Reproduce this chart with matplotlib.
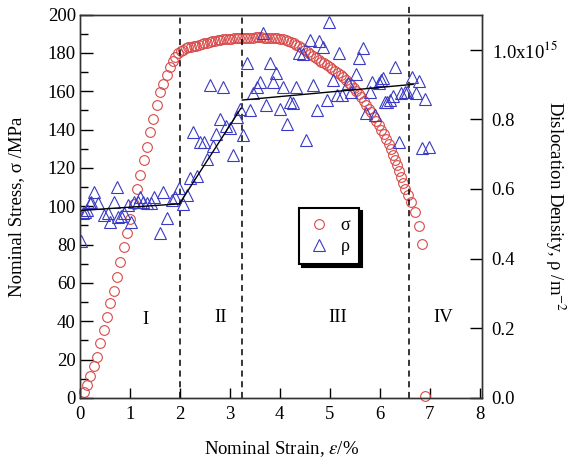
import numpy as np
import matplotlib
matplotlib.use("Agg")
import matplotlib.pyplot as plt

plt.rcParams['font.family'] = ['Liberation Serif', 'DejaVu Serif']
plt.rcParams['mathtext.fontset'] = 'stix'
plt.rcParams['font.size'] = 13.5

# stress-strain points (strain %, stress MPa)
strain_s = [0.08, 0.15, 0.21, 0.28, 0.35, 0.41, 0.48, 0.55, 0.61, 0.68,
            0.74, 0.81, 0.88, 0.94, 1.01, 1.08, 1.14, 1.21, 1.28, 1.34,
            1.41, 1.47, 1.54, 1.61, 1.67, 1.74, 1.80, 1.86, 1.91, 1.97,
            2.02, 2.07, 2.12, 2.17, 2.22, 2.28, 2.33, 2.38, 2.44, 2.49,
            2.55, 2.60, 2.65, 2.71, 2.76, 2.81, 2.87, 2.92, 2.98, 3.03,
            3.08, 3.14, 3.19, 3.25, 3.30, 3.35, 3.41, 3.46, 3.52, 3.57,
            3.63, 3.68, 3.73, 3.79, 3.84, 3.90, 3.95, 4.01, 4.06, 4.12,
            4.17, 4.22, 4.28, 4.33, 4.39, 4.44, 4.50, 4.56, 4.61, 4.67,
            4.72, 4.78, 4.83, 4.89, 4.94, 5.00, 5.05, 5.11, 5.16, 5.22,
            5.27, 5.33, 5.38, 5.43, 5.48, 5.53, 5.58, 5.63, 5.68, 5.73,
            5.78, 5.83, 5.88, 5.93, 5.98, 6.03, 6.08, 6.13, 6.18, 6.23,
            6.27, 6.31, 6.35, 6.39, 6.43, 6.47, 6.51, 6.56, 6.63, 6.71,
            6.78, 6.85, 6.91]
stress = [3.0, 6.6, 11.3, 16.7, 21.6, 28.9, 35.3, 42.1, 49.4, 55.9,
          63.2, 70.8, 78.9, 86.3, 93.3, 101.0, 109.0, 116.3, 124.3, 131.0,
          138.9, 145.7, 152.8, 159.4, 163.8, 168.7, 172.8, 175.6, 177.7, 179.8,
          181.0, 181.8, 182.4, 182.9, 183.2, 183.5, 183.9, 184.3, 184.7, 185.0,
          185.3, 185.7, 186.0, 186.3, 186.6, 186.9, 187.1, 187.3, 187.4, 187.5,
          187.6, 187.7, 187.8, 187.8, 187.9, 188.0, 188.0, 188.0, 188.1, 188.1,
          188.1, 188.0, 188.0, 187.9, 187.9, 187.8, 187.6, 187.4, 187.2, 186.8,
          186.3, 185.7, 185.0, 184.2, 183.4, 182.6, 181.6, 180.6, 179.6, 178.4,
          177.4, 176.3, 175.4, 174.6, 173.6, 172.7, 171.8, 170.6, 169.5, 168.3,
          167.3, 166.0, 164.6, 163.3, 161.8, 160.2, 158.5, 156.8, 155.0, 153.0,
          150.9, 149.0, 146.8, 144.6, 142.3, 140.0, 137.5, 135.0, 132.4, 129.8,
          127.0, 124.2, 121.3, 118.3, 115.2, 112.2, 109.0, 105.8, 102.4, 96.8,
          89.8, 80.4, 1.0]

# dislocation density points (strain %, rho in 1e15 m^-2)
strain_r = [0.01, 0.06, 0.10, 0.15, 0.20, 0.23, 0.28, 0.37, 0.48, 0.56,
            0.60, 0.68, 0.74, 0.77, 0.82, 0.89, 0.96, 1.02, 1.08, 1.16,
            1.21, 1.27, 1.34, 1.43, 1.48, 1.61, 1.67, 1.74, 1.84, 1.91,
            1.98, 2.06, 2.14, 2.21, 2.26, 2.35, 2.41, 2.48, 2.55, 2.60,
            2.67, 2.73, 2.80, 2.87, 2.93, 3.00, 3.07, 3.15, 3.20, 3.27,
            3.34, 3.40, 3.47, 3.54, 3.60, 3.67, 3.73, 3.80, 3.87, 3.93,
            4.00, 4.07, 4.14, 4.21, 4.27, 4.33, 4.39, 4.46, 4.53, 4.60,
            4.67, 4.74, 4.79, 4.86, 4.94, 4.99, 5.06, 5.14, 5.19, 5.25,
            5.36, 5.43, 5.53, 5.59, 5.66, 5.73, 5.80, 5.85, 5.91, 5.98,
            6.02, 6.06, 6.11, 6.14, 6.20, 6.27, 6.31, 6.38, 6.43, 6.50,
            6.55, 6.65, 6.72, 6.79, 6.85, 6.91, 6.99]
rho = [0.451, 0.532, 0.535, 0.540, 0.559, 0.563, 0.590, 0.559, 0.525, 0.530,
       0.506, 0.563, 0.606, 0.519, 0.522, 0.532, 0.554, 0.506, 0.563, 0.563,
       0.578, 0.563, 0.559, 0.559, 0.578, 0.473, 0.592, 0.516, 0.568, 0.578,
       0.602, 0.557, 0.583, 0.631, 0.764, 0.637, 0.736, 0.736, 0.685, 0.898,
       0.723, 0.758, 0.800, 0.892, 0.781, 0.774, 0.697, 0.807, 0.829, 0.755,
       0.962, 0.827, 0.874, 0.893, 0.908, 1.047, 0.841, 0.961, 0.908, 0.932,
       0.829, 0.893, 0.785, 0.848, 0.846, 0.891, 0.989, 0.986, 0.740, 1.027,
       0.898, 0.825, 1.023, 1.008, 0.855, 1.078, 0.913, 0.870, 0.989, 0.870,
       0.903, 0.879, 0.929, 0.975, 1.004, 0.817, 0.877, 0.908, 0.812, 0.903,
       0.913, 0.918, 0.850, 0.849, 0.855, 0.867, 0.951, 0.735, 0.874, 0.877,
       0.879, 0.922, 0.874, 0.910, 0.717, 0.858, 0.721]

# linear fits of rho in each stage
fit_x = [[0.0, 1.99], [1.99, 3.22], [3.25, 6.67]]
fit_y = [[0.538, 0.557], [0.557, 0.831], [0.855, 0.900]]

stage_bounds = [2.0, 3.25, 6.58]
stage_names = ['I', 'II', 'III', 'IV']
stage_x = [1.31, 2.81, 5.17, 7.28]
stage_y = [41, 42, 42, 42]

red = '#d84a4a'
blue = '#3a3ac4'

fig = plt.figure(figsize=(5.69, 4.61), dpi=100)
ax = fig.add_axes([0.1406, 0.1367, 0.7065, 0.8315])
ax2 = ax.twinx()

ax.plot(strain_s, stress, 'o', ms=7, mfc='none', mec=red, mew=0.8,
        clip_on=False, label='σ')
ax2.plot(strain_r, rho, '^', ms=8.5, mfc='none', mec=blue, mew=0.8,
         label='ρ')
for fx, fy in zip(fit_x, fit_y):
    ax2.plot(fx, fy, '-', color='black', lw=1.0)

for i, b in enumerate(stage_bounds):
    top = 1.022 if i == 2 else 1.0
    ax.axvline(b, ymin=0, ymax=top, color='black', ls=(0, (4, 3)),
               lw=1.1, clip_on=False)
for nm, sx, sy in zip(stage_names, stage_x, stage_y):
    ax.text(sx, sy, nm, ha='center', va='center', fontsize=13.5)

ax.set_xlim(0, 8.05)
ax.set_ylim(0, 200)
ax2.set_ylim(0, 1.1)

ax.set_xticks(range(0, 9))
ax.set_yticks(range(0, 201, 20))
ax.set_yticks(range(10, 200, 20), minor=True)
ax.tick_params(axis='x', direction='in', length=7, width=1, pad=6,
               top=False)
ax.tick_params(axis='y', which='major', direction='in', length=9.5,
               width=1, pad=3)
ax.tick_params(axis='y', which='minor', direction='in', length=5.5,
               width=1)
ax2.set_yticks([0, 0.2, 0.4, 0.6, 0.8, 1.0])
ax2.set_yticklabels(['0.0', '0.2', '0.4', '0.6', '0.8',
                     r'1.0x10$^{15}$'])
ax2.tick_params(axis='y', direction='in', length=8.5, width=1, pad=7)

for a in (ax, ax2):
    for s in a.spines.values():
        s.set_linewidth(1.0)
        s.set_color('#333333')

ax.set_xlabel(r'Nominal Strain, $\varepsilon$/%', fontsize=13.5,
              va='center')
ax.xaxis.set_label_coords(0.5, -0.133)
ax.set_ylabel('Nominal Stress, σ /MPa', fontsize=13.5, va='center')
ax.yaxis.set_label_coords(-0.157, 0.5)
ax2.set_ylabel(r'Dislocation Density, ρ /m$^{-2}$', fontsize=13.5,
               rotation=270, va='center', ha='center')
ax2.yaxis.set_label_coords(1.183, 0.5)

h1, l1 = ax.get_legend_handles_labels()
h2, l2 = ax2.get_legend_handles_labels()
leg = ax2.legend(h1 + h2[:1], l1 + l2[:1], loc='upper left',
                 bbox_to_anchor=(0.545, 0.496), borderaxespad=0,
                 fancybox=False, fontsize=13, handlelength=1.2,
                 handletextpad=0.6, borderpad=0.5, labelspacing=0.25,
                 shadow={'color': 'black', 'alpha': 1.0})
leg.get_frame().set_edgecolor('black')
leg.get_frame().set_linewidth(1.5)

fig.savefig('out.png', dpi=100)
